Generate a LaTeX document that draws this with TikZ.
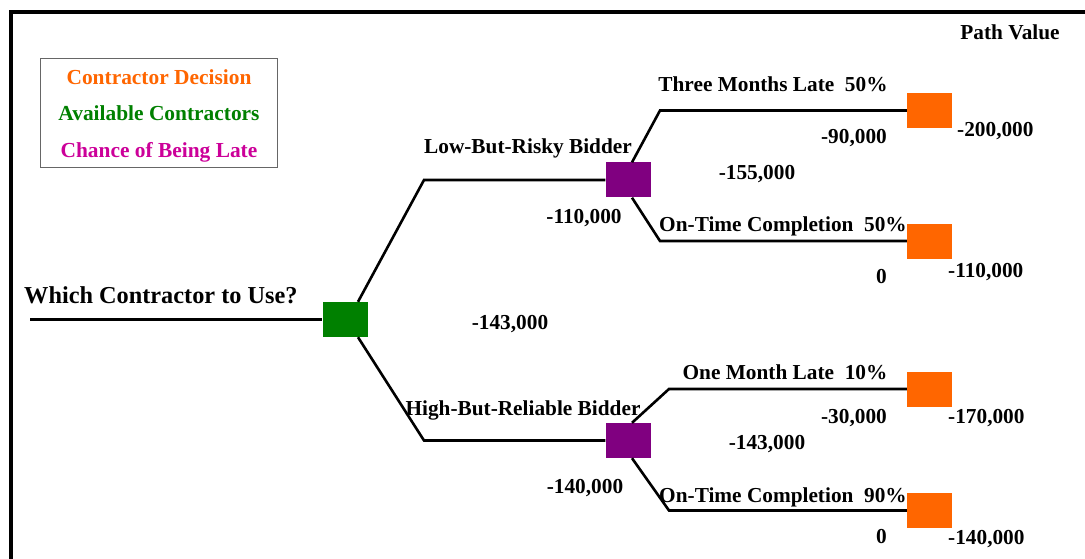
\documentclass[tikz,border=0pt]{standalone}
\usepackage{fontspec}
\setmainfont{Liberation Serif}
\definecolor{decorange}{HTML}{FF6600}
\definecolor{decgreen}{HTML}{008000}
\definecolor{decpurple}{HTML}{800080}
\definecolor{latemagenta}{HTML}{CC0099}
\definecolor{boxgray}{HTML}{666666}
\begin{document}
\begin{tikzpicture}[x=1pt,y=-1pt,
  edge/.style={line width=2.6pt, line join=miter},
  sq/.style={rectangle, inner sep=0pt, minimum width=45pt, minimum height=35pt},
  lbl/.style={anchor=base, inner sep=0pt, font=\fontsize{21.3}{25}\selectfont\bfseries},
  legtxt/.style={anchor=base, inner sep=0pt, font=\fontsize{21.4}{25}\selectfont\bfseries}
]
\useasboundingbox (0,0) rectangle (1085,559);
\fill[white] (0,0) rectangle (1085,559);
% frame
\draw[line width=4.5pt] (1085,12) -- (11,12) -- (11,559);

% legend
\node[draw=boxgray, line width=1pt, minimum width=237pt, minimum height=109pt, inner sep=0pt] (legend) at (158.5,113.5) {};
\node[legtxt, text=decorange] (legA) at (159,85) {Contractor Decision};
\node[legtxt, text=decgreen] (legB) at (159,121) {Available Contractors};
\node[legtxt, text=latemagenta] (legC) at (159,158) {Chance of Being Late};

\node[lbl] (pathvalue) at (1010,40) {Path Value};

% nodes of the tree
\coordinate (root) at (30,319.5);
\node[sq, fill=decgreen] (dec) at (345,319.5) {};
\node[sq, fill=decpurple] (pb1) at (628,180) {};
\node[sq, fill=decpurple] (pb2) at (628,440.5) {};
\node[sq, fill=decorange] (o1) at (929.5,110.5) {};
\node[sq, fill=decorange] (o2) at (929.5,241) {};
\node[sq, fill=decorange] (o3) at (929.5,389) {};
\node[sq, fill=decorange] (o4) at (929.5,510.5) {};

% branches
\draw[edge] (root) -- (dec.west);
\draw[edge] ([xshift=13pt]dec.north) -- (424,0 |- pb1.west) -- (pb1.west);
\draw[edge] ([xshift=13pt]dec.south) -- (424,0 |- pb2.west) -- (pb2.west);
\draw[edge] ([xshift=4pt]pb1.north) -- (660,0 |- o1.west) -- (o1.west);
\draw[edge] ([xshift=4pt]pb1.south) -- (660,0 |- o2.west) -- (o2.west);
\draw[edge] ([xshift=4pt]pb2.north) -- (669,0 |- o3.west) -- (o3.west);
\draw[edge] ([xshift=4pt]pb2.south) -- (669,0 |- o4.west) -- (o4.west);

% labels
\node[lbl, anchor=base west, font=\fontsize{24.3}{28}\selectfont\bfseries] (q) at (24,303) {Which Contractor to Use?};
\node[lbl] (lowlbl) at (528,154) {Low-But-Risky Bidder};
\node[lbl] (highlbl) at (523,415) {High-But-Reliable Bidder};
\node[lbl] (v1) at (584,223) {-110,000};
\node[lbl] (v2) at (585,493) {-140,000};
\node[lbl] (vroot) at (510,329) {-143,000};

\node[lbl] (t1) at (773,92) {Three Months Late\ \ 50\%};
\node[lbl] (t2) at (783,231) {On-Time Completion\ \ 50\%};
\node[lbl] (t3) at (785,379) {One Month Late\ \ 10\%};
\node[lbl] (t4) at (783,502) {On-Time Completion\ \ 90\%};

\node[lbl, anchor=base east] (c1) at (887,144) {-90,000};
\node[lbl, anchor=base east] (c2) at (887,283) {0};
\node[lbl, anchor=base east] (c3) at (887,423) {-30,000};
\node[lbl, anchor=base east] (c4) at (887,543) {0};

\node[lbl] (ev1) at (757,179) {-155,000};
\node[lbl] (ev2) at (767,449) {-143,000};

\node[lbl, anchor=base west] (p1) at (957,137) {-200,000};
\node[lbl, anchor=base west] (p2) at (948,277) {-110,000};
\node[lbl, anchor=base west] (p3) at (948,423) {-170,000};
\node[lbl, anchor=base west] (p4) at (948,544) {-140,000};
\end{tikzpicture}
\end{document}
